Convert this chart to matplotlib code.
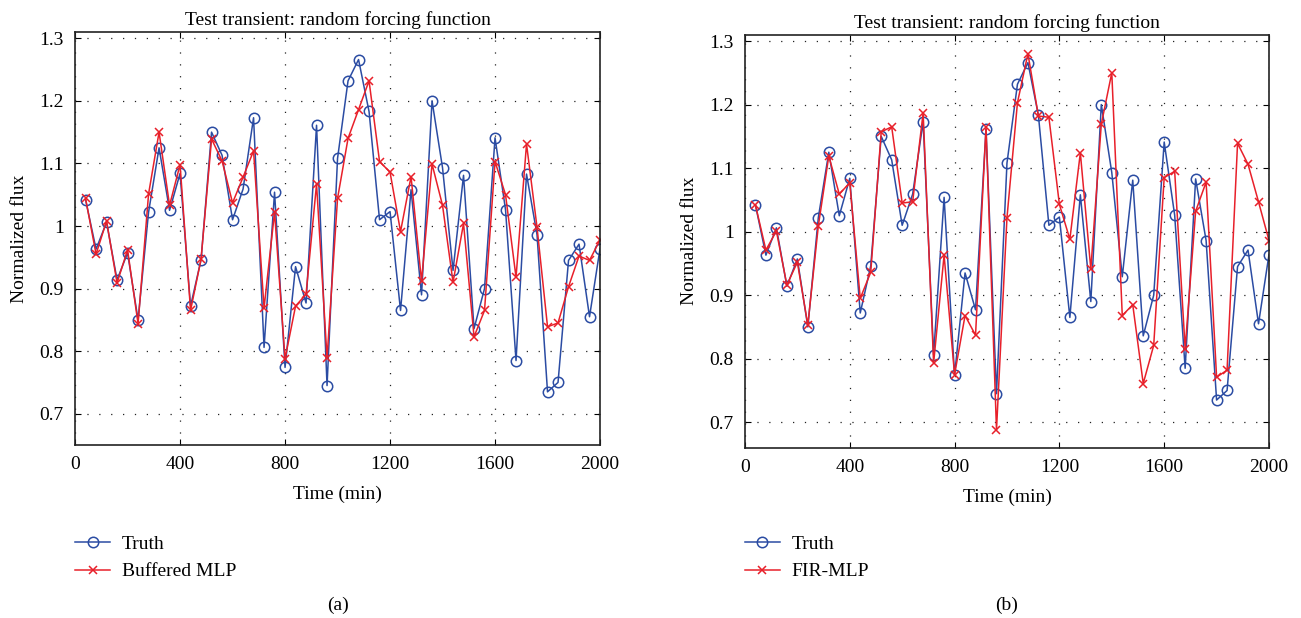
import numpy as np
import matplotlib.pyplot as plt

plt.rcParams['font.family'] = ['Liberation Serif', 'DejaVu Serif']

# time axis (min)
time = [40 * (i + 1) for i in range(50)]

truth = [1.042, 0.963, 1.006, 0.914, 0.957, 0.850, 1.022, 1.125, 1.025, 1.084,
         0.872, 0.946, 1.150, 1.113, 1.010, 1.059, 1.173, 0.806, 1.054, 0.774,
         0.935, 0.877, 1.161, 0.745, 1.108, 1.232, 1.266, 1.183, 1.010, 1.023,
         0.865, 1.058, 0.890, 1.200, 1.093, 0.929, 1.081, 0.836, 0.900, 1.141,
         1.026, 0.785, 1.083, 0.986, 0.735, 0.750, 0.945, 0.971, 0.855, 0.964]

buffered_mlp = [1.044, 0.955, 1.008, 0.909, 0.962, 0.844, 1.051, 1.150, 1.033, 1.098,
                0.865, 0.947, 1.139, 1.104, 1.037, 1.078, 1.120, 0.869, 1.022, 0.788,
                0.872, 0.891, 1.067, 0.789, 1.044, 1.140, 1.186, 1.232, 1.103, 1.086,
                0.991, 1.079, 0.912, 1.099, 1.033, 0.910, 1.004, 0.823, 0.865, 1.103,
                1.050, 0.918, 1.131, 0.998, 0.839, 0.845, 0.903, 0.952, 0.945, 0.978]

fir_mlp = [1.042, 0.971, 1.001, 0.916, 0.952, 0.853, 1.009, 1.119, 1.059, 1.077,
           0.895, 0.936, 1.157, 1.165, 1.045, 1.047, 1.187, 0.793, 0.963, 0.775,
           0.868, 0.837, 1.164, 0.688, 1.022, 1.203, 1.280, 1.182, 1.180, 1.043,
           0.988, 1.124, 0.941, 1.169, 1.250, 0.868, 0.885, 0.761, 0.821, 1.085,
           1.095, 0.816, 1.032, 1.078, 0.771, 0.782, 1.139, 1.106, 1.047, 0.986]

x_ticks = [0, 400, 800, 1200, 1600, 2000]
y_ticks = [0.7, 0.8, 0.9, 1.0, 1.1, 1.2, 1.3]
y_tick_labels = ['0.7', '0.8', '0.9', '1', '1.1', '1.2', '1.3']

blue = '#2b4ca3'
red = '#e8202a'
fs = 14

fig = plt.figure(figsize=(13.01, 6.18), dpi=100)

panels = [
    ([0.0577, 0.2799, 0.4035, 0.6683], buffered_mlp, 'Buffered MLP', (0.65, 1.31), '(a)'),
    ([0.5726, 0.2756, 0.4028, 0.6683], fir_mlp, 'FIR-MLP', (0.66, 1.31), '(b)'),
]

for rect, model, name, ylim, tag in panels:
    ax = fig.add_axes(rect)
    ax.plot(time, truth, '-o', color=blue, lw=1.1, ms=7.5, mfc='none', mew=1.1, label='Truth')
    ax.plot(time, model, '-x', color=red, lw=1.1, ms=6, mew=1.1, label=name)
    ax.set_xlim(0, 2000)
    ax.set_ylim(*ylim)
    ax.set_xticks(x_ticks)
    ax.set_yticks(y_ticks)
    ax.set_yticklabels(y_tick_labels)
    ax.grid(True, color='#222222', linestyle=(0, (1, 8.5)), linewidth=0.9)
    ax.tick_params(direction='in', top=True, right=True, labelsize=fs, length=4, pad=8)
    for s in ax.spines.values():
        s.set_linewidth(1.2)
        s.set_color('#222222')
    ax.set_title('Test transient: random forcing function', fontsize=fs, pad=5)
    ax.set_xlabel('Time (min)', fontsize=fs, labelpad=9)
    ax.set_ylabel('Normalized flux', fontsize=fs, labelpad=8)
    ax.legend(loc='upper left', bbox_to_anchor=(rect[0] - 0.006, 0.146),
              bbox_transform=fig.transFigure, frameon=False, fontsize=fs,
              handlelength=1.8, handletextpad=0.6, labelspacing=0.5, borderaxespad=0)
    fig.text(rect[0] + rect[2] / 2, 0.021, tag, ha='center', va='center', fontsize=fs)

fig.savefig('out.png', dpi=100)
